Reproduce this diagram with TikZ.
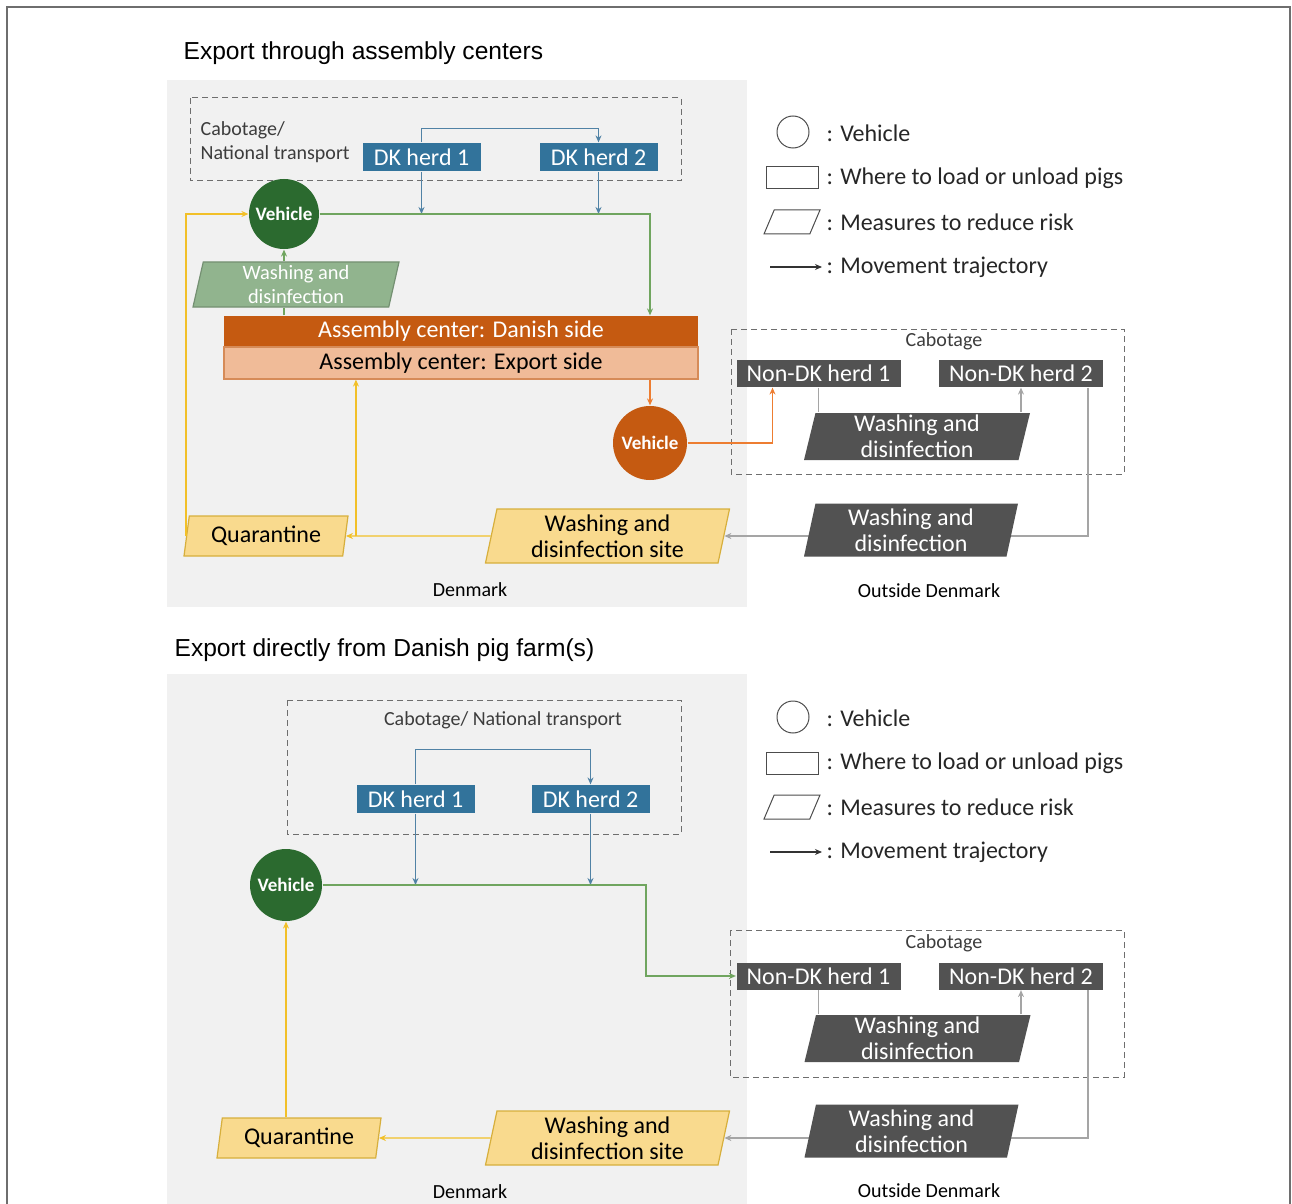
\documentclass[tikz,border=0pt]{standalone}
\usepackage{fontspec}
\setmainfont{Carlito}
\newfontfamily\titlefont{Liberation Sans}
\usetikzlibrary{arrows.meta,shapes.geometric}

\definecolor{bgray}{RGB}{241,241,241}
\definecolor{frame}{RGB}{110,110,110}
\definecolor{herdblue}{RGB}{50,115,155}
\definecolor{lineblue}{RGB}{80,130,165}
\definecolor{vehgreen}{RGB}{43,106,47}
\definecolor{linegreen}{RGB}{112,165,95}
\definecolor{washgreen}{RGB}{145,180,142}
\definecolor{asmdark}{RGB}{197,90,17}
\definecolor{asmlight}{RGB}{240,187,152}
\definecolor{lineorange}{RGB}{237,125,49}
\definecolor{quarfill}{RGB}{249,218,142}
\definecolor{quardraw}{RGB}{215,175,60}
\definecolor{lineyellow}{RGB}{242,192,40}
\definecolor{darkbox}{RGB}{82,82,82}
\definecolor{linegray}{RGB}{165,165,165}
\definecolor{txtgray}{RGB}{60,60,60}

\begin{document}
\begin{tikzpicture}[x=0.5pt, y=-0.5pt, line width=0.6pt,
	>={Stealth[length=3.5pt,width=3pt]},
	ttl/.style={anchor=west, inner sep=0pt, font=\titlefont\fontsize{12.3}{14}\selectfont},
	lbl/.style={inner sep=0pt, text=txtgray, font=\fontsize{10}{12}\selectfont},
	dbox/.style={draw=frame, dashed, dash pattern=on 3pt off 2pt, line width=0.5pt},
	herd/.style={fill=herdblue, text=white, minimum width=59pt, minimum height=14pt, inner sep=0pt, font=\fontsize{12}{14}\selectfont},
	ndk/.style={fill=darkbox, text=white, minimum width=82pt, minimum height=13.5pt, inner sep=0pt, font=\fontsize{12}{14}\selectfont},
	veh/.style={circle, minimum size=35pt, inner sep=0pt, text=white, font=\bfseries\fontsize{9.5}{11}\selectfont},
	para/.style={trapezium, trapezium left angle=75, trapezium right angle=105, trapezium stretches body, inner sep=0pt, align=center, font=\fontsize{12}{13}\selectfont},
	asm/.style={minimum width=237pt, inner sep=0pt, font=\fontsize{12}{14}\selectfont},
	blu/.style={draw=lineblue},
	grn/.style={draw=linegreen},
	org/.style={draw=lineorange},
	yel/.style={draw=lineyellow},
	gry/.style={draw=linegray},
	lgtxt/.style={anchor=west, inner sep=0pt, text=black!85, font=\fontsize{12}{14}\selectfont},
	lgshape/.style={draw=black!70, line width=0.5pt, inner sep=0pt}]

	\useasboundingbox (0,0) rectangle (1292,1204);
	\draw[frame, line width=1pt] (7,1230) -- (7,7) -- (1290,7) -- (1290,1230);

	% backgrounds and dashed areas
	\fill[bgray] (167,80) rectangle (747,607);
	\fill[bgray] (167,674) rectangle (747,1230);
	\draw[dbox] (190,98) rectangle (681,181);
	\draw[dbox] (731,329) rectangle (1124,474);
	\draw[dbox] (287,700) rectangle (681,834);
	\draw[dbox] (730,930) rectangle (1124,1077);

	\node[ttl] (ttlA) at (183,53) {Export through assembly centers};
	\node[ttl] (ttlB) at (174,650) {Export directly from Danish pig farm(s)};

	% upper panel
	\node[lbl, anchor=west, align=left] (cabA) at (200,142) {Cabotage/\\National transport};
	\node[lbl] (cabB) at (944,341) {Cabotage};
	\node[lbl, text=black] (dkmA) at (470,590) {Denmark};
	\node[lbl, text=black] (outA) at (929,591) {Outside Denmark};

	\node[herd] (dkA) at (421.5,157) {DK herd 1};
	\node[herd] (dkB) at (598.5,157) {DK herd 2};
	\node[veh, fill=vehgreen] (vehA) at (284,214) {Vehicle};
	\node[para, fill=washgreen, draw=washgreen!80!black, text=white, minimum width=103pt, minimum height=22.5pt, font=\fontsize{10.2}{12}\selectfont] (washA) at (296,284.5) {Washing and\\disinfection};
	\node[asm, fill=asmdark, text=white, minimum height=15.5pt] (asmD) at (461,331.5) {Assembly center: Danish side};
	\node[asm, fill=asmlight, draw=asmdark!70, minimum height=16pt] (asmE) at (461,363) {Assembly center: Export side};
	\node[veh, fill=asmdark, minimum size=37pt] (vehB) at (650,443) {Vehicle};
	\node[para, fill=quarfill, draw=quardraw, minimum width=82pt, minimum height=20pt] (quarA) at (266,536) {Quarantine};
	\node[para, fill=quarfill, draw=quardraw, minimum width=122pt, minimum height=27pt] (siteA) at (607.5,536) {Washing and\\disinfection site};
	\node[ndk] (ndA) at (818.5,373.5) {Non-DK herd 1};
	\node[ndk] (ndB) at (1021,373.5) {Non-DK herd 2};
	\node[para, fill=darkbox, text=white, minimum width=113pt, minimum height=23.5pt] (washB) at (917,436.5) {Washing and\\disinfection};

	\draw[blu,->] (dkA.north) -- ++(0,-14) -| (dkB.north);
	\draw[blu,->] (dkA.south) -- (dkA.south |- vehA.east);
	\draw[blu,->] (dkB.south) -- (dkB.south |- vehA.east);
	\draw[grn,->] (vehA.east) -| (asmD.north -| vehB.north);
	\draw[grn] (asmD.north -| vehA.south) -- (washA.south -| vehA.south);
	\draw[grn,->] (washA.north -| vehA.south) -- (vehA.south);
	\draw[org,->] (asmE.south -| vehB.north) -- (vehB.north);
	\draw[org,->] (vehB.east) -| ([xshift=-23pt]ndA.south);
	\draw[yel,->] (quarA.west) |- (vehA.west);
	\draw[yel,->] (siteA.west) -- (quarA.east);
	\draw[yel,->] ([xshift=5pt]quarA.east) -- ([xshift=5pt]quarA.east |- asmE.south);
	\draw[gry] (ndA.south) -- (ndA.south |- washB.north);
	\draw[gry,->] (washB.north -| ndB.south) -- (ndB.south);
	\draw[gry,->] ([xshift=33.5pt]ndB.south) |- (siteA.east);
	\node[para, fill=darkbox, text=white, minimum width=107pt, minimum height=26.5pt] (washC) at (911,530) {Washing and\\disinfection};

	% lower panel
	\node[lbl] (cabC) at (503,720) {Cabotage/ National transport};
	\node[lbl] (cabD) at (944,943) {Cabotage};
	\node[lbl, text=black] (dkmB) at (470,1192) {Denmark};
	\node[lbl, text=black] (outB) at (929,1191) {Outside Denmark};

	\node[herd] (dkC) at (415.5,799) {DK herd 1};
	\node[herd] (dkD) at (590.5,799) {DK herd 2};
	\node[veh, fill=vehgreen, minimum size=36pt] (vehC) at (286,885) {Vehicle};
	\node[para, fill=quarfill, draw=quardraw, minimum width=82pt, minimum height=20pt] (quarB) at (299,1138) {Quarantine};
	\node[para, fill=quarfill, draw=quardraw, minimum width=122pt, minimum height=27pt] (siteB) at (607.5,1138) {Washing and\\disinfection site};
	\node[ndk] (ndC) at (818.5,976) {Non-DK herd 1};
	\node[ndk] (ndD) at (1021,976) {Non-DK herd 2};
	\node[para, fill=darkbox, text=white, minimum width=113pt, minimum height=23.5pt] (washD) at (917.5,1038.5) {Washing and\\disinfection};

	\draw[blu,->] (dkC.north) -- ++(0,-35) -| (dkD.north);
	\draw[blu,->] (dkC.south) -- (dkC.south |- vehC.east);
	\draw[blu,->] (dkD.south) -- (dkD.south |- vehC.east);
	\draw[grn,->] (vehC.east) -| ([xshift=-45pt]ndC.west) -- (ndC.west);
	\draw[yel,->] (quarB.north -| vehC.south) -- (vehC.south);
	\draw[yel,->] (siteB.west) -- (quarB.east);
	\draw[gry] (ndC.south) -- (ndC.south |- washD.north);
	\draw[gry,->] (washD.north -| ndD.south) -- (ndD.south);
	\draw[gry,->] ([xshift=33.5pt]ndD.south) |- (siteB.east);
	\node[para, fill=darkbox, text=white, minimum width=107pt, minimum height=26.5pt] (washE) at (911.5,1131) {Washing and\\disinfection};

	% legends
	\foreach \ly/\lg in {0/A,585/B}{
		\node[lgshape, circle, minimum size=16pt] (lgV\lg) at (793,132+\ly) {};
		\node[lgtxt] (lgVt\lg) at (826,133+\ly) {: Vehicle};
		\node[lgshape, minimum width=26pt, minimum height=11pt] (lgR\lg) at (792,178+\ly) {};
		\node[lgtxt] (lgRt\lg) at (826,178+\ly) {: Where to load or unload pigs};
		\node[lgshape, trapezium, trapezium left angle=67, trapezium right angle=113, trapezium stretches body, minimum width=28pt] (lgP\lg) at (792,222+\ly) {\rule{0pt}{12pt}};
		\node[lgtxt] (lgPt\lg) at (826,222+\ly) {: Measures to reduce risk};
		\coordinate (lgA\lg) at (770,267+\ly);
		\node[lgtxt] (lgAt\lg) at (826,267+\ly) {: Movement trajectory};
		\draw[black!80, ->, shorten >=2pt] (lgA\lg) -- (lgAt\lg.west);
	}
\end{tikzpicture}
\end{document}
